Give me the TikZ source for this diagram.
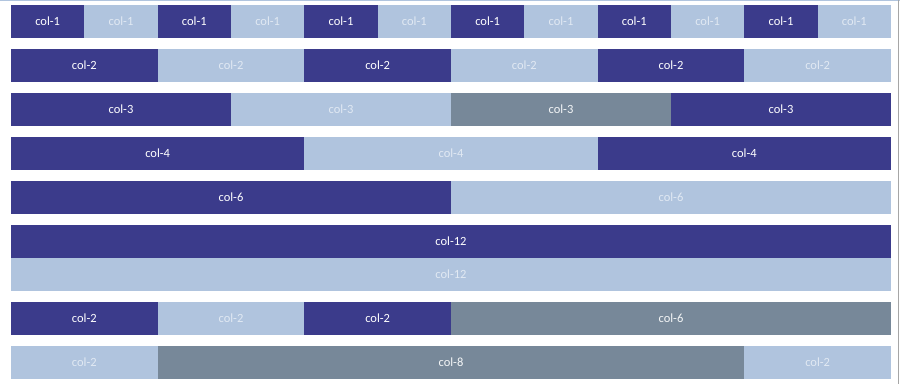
\documentclass[tikz,border=0pt]{standalone}
\usepackage{fontspec}
\setmainfont{Carlito}
\usepackage{xcolor}
\usetikzlibrary{positioning}
\definecolor{gridDark}{RGB}{59,59,139}
\definecolor{gridLight}{RGB}{176,196,222}
\definecolor{gridGray}{RGB}{119,136,153}
\definecolor{lightText}{RGB}{225,233,243}
\tikzset{
  cell/.style={rectangle, inner sep=0pt, outer sep=0pt, minimum height=33pt,
    anchor=north west, font=\fontsize{12.5}{13}\selectfont},
  darkc/.style={cell, fill=gridDark, text=white},
  lightc/.style={cell, fill=gridLight, text=lightText},
  grayc/.style={cell, fill=gridGray, text=white!92!gridGray},
  span/.style={minimum width=#1*73.333pt}
}

\begin{document}
\begin{tikzpicture}[x=1pt, y=-1pt]
  \useasboundingbox (0,0) rectangle (900,384);
  \fill[white] (0,0) rectangle (900,384);
  \draw[gridLight, line width=1.2pt] (0,0.6) -- (900,0.6);
  \draw[gray!70, line width=1pt] (898.5,0) -- (898.5,384);
  % row 1
  \foreach \i in {0,...,5} {
    \node[darkc, span=1] (ra\i) at (11+\i*146.667,5) {col-1};
    \node[lightc, span=1] (rb\i) at (84.333+\i*146.667,5) {col-1};
  }
  % row 2
  \foreach \i in {0,1,2} {
    \node[darkc, span=2] (sa\i) at (11+\i*293.333,49) {col-2};
    \node[lightc, span=2] (sb\i) at (157.667+\i*293.333,49) {col-2};
  }
  % row 3
  \node[darkc, span=3] (t1) at (11,93) {col-3};
  \node[lightc, span=3] (t2) at (231,93) {col-3};
  \node[grayc, span=3] (t3) at (451,93) {col-3};
  \node[darkc, span=3] (t4) at (671,93) {col-3};
  % row 4
  \node[darkc, span=4] (u1) at (11,137) {col-4};
  \node[lightc, span=4] (u2) at (304.333,137) {col-4};
  \node[darkc, span=4] (u3) at (597.667,137) {col-4};
  % row 5
  \node[darkc, span=6] (v1) at (11,181) {col-6};
  \node[lightc, span=6] (v2) at (451,181) {col-6};
  % row 6
  \node[darkc, span=12] (w1) at (11,225) {col-12};
  \node[lightc, span=12] (w2) at (11,258) {col-12};
  % row 7
  \node[darkc, span=2] (x1) at (11,302) {col-2};
  \node[lightc, span=2] (x2) at (157.667,302) {col-2};
  \node[darkc, span=2] (x3) at (304.333,302) {col-2};
  \node[grayc, span=6] (x4) at (451,302) {col-6};
  % row 8
  \node[lightc, span=2] (y1) at (11,346) {col-2};
  \node[grayc, span=8] (y2) at (157.667,346) {col-8};
  \node[lightc, span=2] (y3) at (744.333,346) {col-2};
\end{tikzpicture}
\end{document}
